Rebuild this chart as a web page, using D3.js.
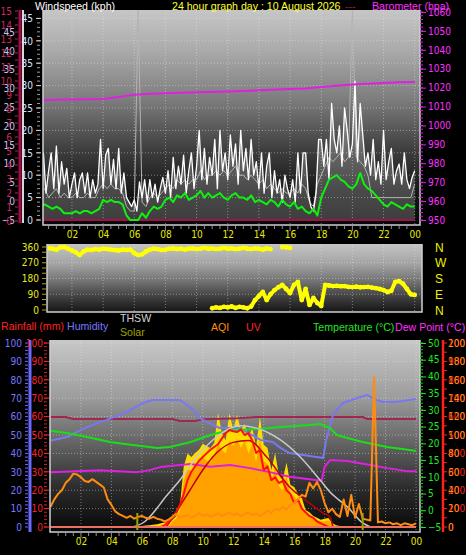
<!DOCTYPE html>
<html><head><meta charset="utf-8">
<script src="https://cdn.jsdelivr.net/npm/d3@7"></script>
<style>
html,body{margin:0;padding:0;background:#000;overflow:hidden}
svg{display:block}
text{font-family:"Liberation Sans",Arial,sans-serif}
.ax text{font-family:"Liberation Sans Narrow","DejaVu Sans Condensed","Liberation Sans",sans-serif;font-size:10px}
</style>
</head><body>
<svg id="c" width="466" height="555"></svg>
<script>
// ---------------- DATA ----------------
const xTickHours  = [2,4,6,8,10,12,14,16,18,20,22,24];
const xTickLabels = ["02","04","06","08","10","12","14","16","18","20","22","00"];

// wind gust (kph), every 10 minutes from 00:00 to 24:00
const windGust = [
  8,15,6,11,15,7,   16.5,6,13,8,11.5,5,  8,10.5,5,9,10.5,6,  10.5,5,9,6,8,18,
  7,14.5,16,8,13.5,7, 16,6,10.5,5,4,3,   4.5,2,8.5,5,9,4,     9,5,8,4,7,9.5,
  6,11,5,14,7,12,   8,14.5,6,11,15,7,    12,20,9,16,8,14,     10,18,7,20,11,15,
  9,19,12,17,8,20,  11,16,9,18,10,13,    7,15,6,12,15,5,      11,6,9,4,10,7,
  5,9,4,15,6,15,    15,6,3,2,6,18,       18,12,18,9,26,18,    15,21,12,25,20,14,
  17,31,13,26,19,12, 15,10,18,9,13,8,    20,9,13,16,8,11,     12.5,8,15,9,7,9.5,
  11];
// wind average (kph), every 15 minutes
const windAvg = [
  6,7,5,6, 7,5,6,5, 5,6,5,5, 6,5,5,7, 8,7,8,7, 7,6,3,2,
  2,47,4,3, 5,6,5,6, 7,8,7,9, 8,9,8,9, 9,11,9,10, 10,11,10,11,
  10,11,12,10, 10,9,10,9, 8,9,7,8, 7,6,7,6, 6,7,6,8, 7,4,3,8,
  10,12,14,13, 14,15,13,14, 47,14,13,12, 10,5,5,5, 5,5,5,5, 5,5,5,5, 8];
// wind speed (kph), every 15 minutes (green)
const windSpeed = [
  3,3.5,3,2.5, 3,2.5,1.5,1.5, 1.5,2,1.5,2, 2,1.5,2,2.5, 4.5,4,4.5,4, 4,3.5,1,0,
  0,0,1.5,0.5, 2,3,2.5,3, 4.5,5,4,5.5, 5,6,4.5,5, 5.5,6.5,5,6, 5,5.5,6,5,
  4.5,5.5,6,5, 5,4.5,5.5,4, 4.5,4,3.5,4.5, 4,3,4.5,3.5, 3,4,2.5,3, 2,1.5,2.5,1,
  5,7,9,9.5, 10,9,8.5,7.5, 7,8,10.5,8, 7,6.5,5.5,4.5, 3.5,3,4,3.5, 3,2.5,3.5,3, 3];
// crimson base series (value per hour)
const crimsonSeries = [0,0,0,0,0,0,0,0,0,0,0,0,0,0,0,0,0,0,0,0,0,0,0,0,0];
// barometer (hPa)
const baroTimes = [0,2,4,5,6,7,8,10,12,14,16,17,18,19,20,21,22,23,24];
const baroVals  = [1013.5,1013.7,1014,1015,1016.3,1016.8,1017,1017.6,1018,1018.6,1019.3,1019.6,1020.3,1021,1021.6,1022,1022.5,1022.8,1023];

// wind direction (deg), every 15 minutes
const windDir = [
  350,352,354,350, 345,358,360,350, 340,330,314,335, 345,343,348,345,
  350,348,345,343, 340,345,343,345, 325,314,318,335, 345,350,348,343,
  345,350,352,348, 350,345,350,352, 348,350,355,350, 352,348,350,355,
  350,352,348,350, 355,350,348,352, 350,345,352,348, null,null,360,358,
  355,null,null,null, null,null,null,null, null,null,null,null, null,null,null,null,
  null,null,null,null, null,null,null,null, null,null,null,null, null];
const windDirLow = [
  null,null,null,null, null,null,null,null, null,null,null,null, null,null,null,null,
  null,null,null,null, null,null,null,null, null,null,null,null, null,null,null,null,
  null,null,null,null, null,null,null,null, null,null,null,null, 10,15,12,18,
  15,20,12,18, 15,10,20,57, 80,103,57,90, 114,130,143,120,
  97,143,160,57, 120,29,69,40, 23,143,140,137, 138,136,137,132,
  131,133,130,131, 132,128,125,120, 114,103,110,160, 165,150,120,90, 86];
const dirLabels = ["N","W","S","E","N"];
const dirLabelVals = [360,270,180,90,0];

// bottom panel
const humTimes = [0,0.2,1.1,1.7,2.4,3.25,3.7,5,6.1,6.7,8.5,9.4,9.8,10.3,11.1,12.4,13.8,14.6,15.1,15.7,17.9,18.1,18.55,19.2,20.1,20.8,21.4,21.8,22.75,24];
const humVals  = [47,47.3,48.9,51.6,54.3,57,58.2,62.5,67.4,69,69,63.6,59.2,57,53.8,53.8,47.3,46.2,43,40.2,37.5,47,61,67.4,70,71.7,69,68,68,69.6];
const maroonTimes = [0,1,1.5,8,8.5,9.5,10,12,13.5,20.5,20.8,24];
const maroonVals  = [59.8,59.8,58.7,58.7,57.6,57.6,58.5,58.9,59.8,59.8,58.7,58.7];
const tempTimes = [0,1.08,2.4,3.9,5.4,6.5,7.0,7.85,9.2,10.5,11.8,13.8,15.1,17.0,17.7,18.35,18.8,19.5,20.5,22.1,23.1,24];
const tempVals  = [23.8,23.1,21.9,20.4,19.5,18.9,18.6,18.9,20.4,22.5,24,24.3,24.9,25.5,25.8,24.6,22.5,21.6,20.4,18.9,18.3,17.7];
const dewTimes = [0,3.25,5.7,6.5,7.2,9.2,10.5,11.8,13.1,14.4,15.7,17.0,17.8,18.0,18.35,19.5,21.0,22.1,23.4,24];
const dewVals  = [11.4,12,11.4,12,12.9,13.8,13,13.5,12.6,11.4,10,9.3,8.8,13,15,14.7,13.5,12.6,11.7,11.7];
const solarMaxTimes = [5.4,6.2,7.0,7.4,8.5,9.6,10.9,12.4,13.8,15.1,16.4,17.7,18.35,19.5,20.5,21];
const solarMaxVals  = [0,30,103,147,255,380,489,550,530,473,380,255,190,109,22,0];
const uvArcTimes = [7.6,8.05,9.16,10,10.9,12,13,14.2,15.7,17,17.9,18.35,18.55];
const uvArcVals  = [0,54,201,310,402,460,470,380,217,130,76,54,0];
// solar radiation (W/m2), every 15 minutes
const solar = [
  0,0,0,0, 0,0,0,0, 0,0,0,0, 0,0,0,0, 0,0,0,0, 0,0,0,0,
  5,8,10,12, 15,20,25,30, 40,60,120,330, 400,380,402,420,
  453,440,430,456, 620,511,470,620, 527,610,527,560, 489,540,435,600,
  447,430,310,402, 280,255,350,230, 217,180,160,92, 80,60,50,40,
  45,49,22,10, 5,0,0,0, 0,0,0,0, 0,0,0,0, 0,0,0,0, 0,0,0,0, 0];
const solarAvg = [
  0,0,0,0, 0,0,0,0, 0,0,0,0, 0,0,0,0, 0,0,0,0, 0,0,0,0,
  0,0,0,0, 0,0,0,0, 30,45,90,250, 320,300,330,350,
  380,360,350,390, 450,420,400,470, 440,480,430,470, 400,450,350,480,
  360,340,250,320, 220,200,280,180, 170,140,120,70, 60,45,40,30,
  30,35,15,5, 0,0,0,0, 0,0,0,0, 0,0,0,0, 0,0,0,0, 0,0,0,0, 0];
const uv = [
  null,null,null,null, null,null,null,null, null,null,null,null, null,null,null,null,
  null,null,null,null, null,null,null,null, 0,0,0,0, 0,0,10,30,
  50,80,120,180, 255,300,330,360, 380,400,420,435, 450,480,510,527,
  520,516,530,500, 510,470,402,420, 310,330,255,270, 239,250,200,180,
  130,150,100,80, 60,50,30,20, 10,0,0,null, null,null,null,null,
  null,null,null,null, null,null,null,null, null,null,null,null, null];
const aqi = [
  22,30,36,40, 48,52,58,57, 54,50,49,52, 49,46,43,30, 24,17,14,12, 10,12,9,11,
  12,10,9,11, 9,8,6,8, 11,14,10,12, 13,10,12,15, 12,14,11,13, 15,12,14,16,
  13,15,12,14, 16,13,15,12, 14,18,15,20, 18,22,19,24, 26,30,35,33, 48,42,49,40,
  26,16,20,14, 11,30,12,35, 10,25,9,8, 7,163,5,6, 4,5,3,4, 2,4,3,2, 4];
const rainfall = [0,0,0,0,0,0,0,0,0,0,0,0,0,0,0,0,0,0,0,0,0,0,0,0,0];
const sunTimes = [5.7, 20.5];

// axis tick label lists
const windTicks = [0,5,10,15,20,25,30,35,40,45];
const paleTicks = [-5,0,5,10,15,20,25,30,35,40,45];
const bftTicks  = [0,1,2,3,4,5,6,7,8,9,10,11,12,13,14,15];
const baroTicks = [950,960,970,980,990,1000,1010,1020,1030,1040,1050,1060];
const dirTicks  = [0,90,180,270,360];
const humTicks  = [0,10,20,30,40,50,60,70,80,90,100];
const tempTicks = [-5,0,5,10,15,20,25,30,35,40,45,50];
const solarTicks= [0,100,200,300,400,500,600,700,800,900,1000];
const aqiTicks  = [0,20,40,60,80,100,120,140,160,180,200];

// ---------------- CHART ----------------
const fmt = d3.format("d");
const svg = d3.select("#c");
const defs = svg.append("defs");
function grad(id, y1, y2, stops){
  const g = defs.append("linearGradient").attr("id",id).attr("gradientUnits","userSpaceOnUse")
    .attr("x1",0).attr("x2",0).attr("y1",y1).attr("y2",y2);
  stops.forEach(([o,c])=>g.append("stop").attr("offset",o).attr("stop-color",c));
}
const P = {
  top:{x:43,y:10,w:377,h:215},
  mid:{x:47,y:244,w:375,h:68},
  bot:{x:50,y:340,w:370,h:192}
};
grad("gTop",P.top.y,P.top.y+P.top.h,[[0,"#c6c6c6"],[0.19,"#aaaaaa"],[0.42,"#7c7c7c"],[0.65,"#3e3e3e"],[0.85,"#161616"],[1,"#060606"]]);
grad("gMid",P.mid.y,P.mid.y+P.mid.h,[[0,"#c4c4c4"],[0.3,"#a2a2a2"],[0.55,"#727272"],[0.78,"#404040"],[1,"#151515"]]);
grad("gBot",P.bot.y,P.bot.y+P.bot.h,[[0,"#c8c8c8"],[0.3,"#9c9c9c"],[0.57,"#5c5c5c"],[0.78,"#2a2a2a"],[1,"#070707"]]);
Object.entries(P).forEach(([k,r])=>{
  defs.append("clipPath").attr("id","clip_"+k).append("rect")
    .attr("x",r.x).attr("y",r.y).attr("width",r.w).attr("height",r.h);
});

const xTop = d3.scaleLinear([0,24],[40.8,414.7]);
const xBot = d3.scaleLinear([0,24],[50.5,416]);
const yWind = d3.scaleLinear([0,45],[220,18.4]);
const yPale = d3.scaleLinear([-5,45],[220,32]);
const yBft  = d3.scaleLinear([0,15],[221,11]);
const yBaro = d3.scaleLinear([950,1060],[220,12]);
const yDir  = d3.scaleLinear([0,360],[310,247]);
const yHum  = d3.scaleLinear([0,100],[527,343]);
const yTemp = d3.scaleLinear([-5,50],[527,343]);
const ySol  = d3.scaleLinear([0,1000],[527,343]);
const yAqi  = d3.scaleLinear([0,200],[527,343]);

function panelBg(r, g){
  svg.append("rect").attr("x",r.x).attr("y",r.y).attr("width",r.w).attr("height",r.h).attr("fill",`url(#${g})`);
}
panelBg(P.top,"gTop"); panelBg(P.mid,"gMid"); panelBg(P.bot,"gBot");

function grid(r, xs, xVals, ys, yVals, key){
  const g = svg.append("g").attr("clip-path",`url(#clip_${key})`)
    .attr("stroke","#e6e6e6").attr("stroke-opacity",0.45).attr("stroke-dasharray","1,2");
  xVals.forEach(v=>g.append("line").attr("x1",xs(v)).attr("x2",xs(v)).attr("y1",r.y).attr("y2",r.y+r.h));
  yVals.forEach(v=>g.append("line").attr("y1",ys(v)).attr("y2",ys(v)).attr("x1",r.x).attr("x2",r.x+r.w));
}
grid(P.top,xTop,xTickHours,yWind,windTicks.slice(1),"top");
grid(P.mid,xTop,xTickHours,yDir,[90,180,270],"mid");
grid(P.bot,xBot,xTickHours,yHum,humTicks.slice(1),"bot");

function seriesLine(key, xs, ys, times, vals, color, width, curve){
  const data = vals.map((v,i)=>({t:times[i],v}));
  const line = d3.line().defined(d=>d.v!=null).x(d=>xs(d.t)).y(d=>ys(d.v)).curve(curve||d3.curveLinear);
  return svg.append("path").attr("clip-path",`url(#clip_${key})`).datum(data)
    .attr("d",line).attr("fill","none").attr("stroke",color).attr("stroke-width",width)
    .attr("stroke-linejoin","round");
}
function seriesArea(key, xs, ys, times, vals, color){
  const data = vals.map((v,i)=>({t:times[i],v}));
  const area = d3.area().x(d=>xs(d.t)).y0(ys(0)).y1(d=>ys(d.v));
  return svg.append("path").attr("clip-path",`url(#clip_${key})`).datum(data)
    .attr("d",area).attr("fill",color);
}
const t10 = windGust.map((_,i)=>i/6);
const t15 = windSpeed.map((_,i)=>i/4);
const tH  = crimsonSeries.map((_,i)=>i);

// ---- top panel series ----
seriesArea("top",xTop,yWind,t10,windGust,"rgba(255,255,255,0.22)");
seriesLine("top",xTop,yWind,t15,windAvg,"#b4b4b4",1);
seriesLine("top",xTop,yWind,t10,windGust,"#ffffff",1.3);
seriesLine("top",xTop,yWind,tH,crimsonSeries,"#a0104a",2);
seriesLine("top",xTop,yWind,t15,windSpeed,"#10f010",2);
seriesLine("top",xTop,yBaro,baroTimes,baroVals,"#e020e0",2);

// ---- middle panel ----
function dots(key, xs, ys, times, vals, color, r){
  svg.append("g").attr("clip-path",`url(#clip_${key})`).selectAll("circle")
    .data(vals.map((v,i)=>({t:times[i],v})).filter(d=>d.v!=null))
    .join("circle").attr("cx",d=>xs(d.t)).attr("cy",d=>ys(d.v)).attr("r",r).attr("fill",color);
}
seriesLine("mid",xTop,yDir,t15,windDir,"#ffff00",4);
seriesLine("mid",xTop,yDir,t15,windDirLow,"#ffff00",4);
dots("mid",xTop,yDir,t15,windDir,"#ffff00",2.4);
dots("mid",xTop,yDir,t15,windDirLow,"#ffff00",2.4);

// ---- bottom panel ----
seriesArea("bot",xBot,ySol,t15,solar,"#ffdc00");
seriesArea("bot",xBot,ySol,t15,solarAvg,"#ffa200");
seriesLine("bot",xBot,yHum,maroonTimes,maroonVals,"#a02850",2);
seriesLine("bot",xBot,yHum,humTimes,humVals,"#7878f0",2);
seriesLine("bot",xBot,yTemp,tempTimes,tempVals,"#18e018",2);
seriesLine("bot",xBot,yTemp,dewTimes,dewVals,"#e020e0",2);
seriesLine("bot",xBot,ySol,solarMaxTimes,solarMaxVals,"#c8c8c8",1.5,d3.curveMonotoneX);
seriesLine("bot",xBot,ySol,uvArcTimes,uvArcVals,"#c00000",1.5,d3.curveMonotoneX);
seriesLine("bot",xBot,ySol,t15,uv,"#ff1010",2);
seriesLine("bot",xBot,yAqi,t15,aqi,"#ff8c10",2);
seriesLine("bot",xBot,yHum,tH,rainfall,"#f07060",2);
svg.append("g").attr("clip-path","url(#clip_bot)").selectAll("line").data(sunTimes).join("line")
  .attr("x1",d=>xBot(d)).attr("x2",d=>xBot(d)).attr("y1",530).attr("y2",513)
  .attr("stroke","#a0a000").attr("stroke-width",2);

// ---- plot borders ----
function border(r){
  svg.append("path").attr("d",`M${r.x},${r.y}V${r.y+r.h}H${r.x+r.w}V${r.y}`)
    .attr("fill","none").attr("stroke","#cfcfcf").attr("stroke-width",1.5);
}
border(P.top); border(P.mid); border(P.bot);

// ---- axes ----
function styleAxis(g, color, tickColor){
  g.attr("class","ax");
  g.select("path.domain").remove();
  g.selectAll("line").attr("stroke",tickColor||color);
  g.selectAll("text").attr("fill",color);
  return g;
}
function minorTicks(x, scale, vals, len, color, dir){
  const g = svg.append("g");
  vals.forEach(v=>g.append("line").attr("x1",x).attr("x2",x+dir*len)
    .attr("y1",scale(v)).attr("y2",scale(v)).attr("stroke",color).attr("stroke-width",1));
}
// x axes
const xaTop = svg.append("g").attr("transform",`translate(0,${P.top.y+P.top.h})`)
  .call(d3.axisBottom(xTop).tickValues(xTickHours).tickFormat((d,i)=>xTickLabels[i]).tickSize(0).tickPadding(6));
styleAxis(xaTop,"#e8e800");
svg.append("g").selectAll("line").data(d3.range(1,48)).join("line")
  .attr("x1",d=>xTop(d/2)).attr("x2",d=>xTop(d/2)).attr("y1",226).attr("y2",d=>d%4===0?231:229)
  .attr("stroke","#909090");
const xaBot = svg.append("g").attr("transform",`translate(0,${P.bot.y+P.bot.h})`)
  .call(d3.axisBottom(xBot).tickValues(xTickHours).tickFormat((d,i)=>xTickLabels[i]).tickSize(0).tickPadding(6));
styleAxis(xaBot,"#e8e800");
svg.append("g").selectAll("line").data(d3.range(1,48)).join("line")
  .attr("x1",d=>xBot(d/2)).attr("x2",d=>xBot(d/2)).attr("y1",533).attr("y2",d=>d%4===0?538:536)
  .attr("stroke","#909090");

// top-left axes
svg.append("line").attr("x1",20).attr("x2",20).attr("y1",10).attr("y2",223).attr("stroke","#a01048").attr("stroke-width",3);
minorTicks(18, yBft, d3.range(0,15.5,0.5), 3, "#c02058", -1);
svg.append("line").attr("x1",23).attr("x2",23).attr("y1",10).attr("y2",223).attr("stroke","#d8d8d8").attr("stroke-width",2);
styleAxis(svg.append("g").attr("transform","translate(16,0)")
  .call(d3.axisLeft(yPale).tickValues(paleTicks).tickSize(0).tickPadding(1)),"#c4c8f0");
styleAxis(svg.append("g").attr("transform","translate(13,0)")
  .call(d3.axisLeft(yBft).tickValues(bftTicks).tickSize(0).tickPadding(1)),"#d02858");
styleAxis(svg.append("g").attr("transform","translate(34,0)")
  .call(d3.axisLeft(yWind).tickValues(windTicks).tickSize(0).tickPadding(1)),"#dde4ff");
minorTicks(37, yWind, d3.range(0,46,1), 3, "#9a9a9a", 1);
minorTicks(36, yWind, windTicks, 5, "#d0d0d0", 1);

// barometer
minorTicks(420, yBaro, d3.range(950,1061,2), 3, "#d020d0", 1);
styleAxis(svg.append("g").attr("transform","translate(421,0)")
  .call(d3.axisRight(yBaro).tickValues(baroTicks).tickFormat(fmt).tickSize(5).tickPadding(2)),"#ff30ff","#e020e0");

// direction axis
minorTicks(42, yDir, d3.range(0,361,30), 4, "#b0a000", 1);
styleAxis(svg.append("g").attr("transform","translate(40,0)")
  .call(d3.axisLeft(yDir).tickValues(dirTicks).tickSize(0).tickPadding(1)),"#e8e820");
svg.append("g").selectAll("text").data(dirLabels).join("text")
  .attr("x",435).attr("y",(d,i)=>yDir(dirLabelVals[i])+4.5).text(d=>d)
  .attr("fill","#f0f000").style("font-size","12px");

// bottom left
svg.append("line").attr("x1",30).attr("x2",30).attr("y1",340).attr("y2",532).attr("stroke","#6a6aff").attr("stroke-width",3);
minorTicks(28, yHum, d3.range(0,101,2), 3, "#6a6aff", -1);
styleAxis(svg.append("g").attr("transform","translate(23,0)")
  .call(d3.axisLeft(yHum).tickValues(humTicks).tickSize(0).tickPadding(1)),"#7878ff");
styleAxis(svg.append("g").attr("transform","translate(44,0)")
  .call(d3.axisLeft(yHum).tickValues(humTicks).tickSize(0).tickPadding(1)),"#ff2020");
minorTicks(44, yHum, d3.range(0,101,2), 3, "#d02020", 1);
minorTicks(44, yHum, humTicks, 5, "#ff2020", 1);

// bottom right
minorTicks(420, yTemp, d3.range(-5,51,1), 3, "#18c018", 1);
styleAxis(svg.append("g").attr("transform","translate(421,0)")
  .call(d3.axisRight(yTemp).tickValues(tempTicks).tickSize(5).tickPadding(2)),"#20e820");
svg.append("line").attr("x1",443).attr("x2",443).attr("y1",340).attr("y2",532).attr("stroke","#ff2020").attr("stroke-width",2.5);
minorTicks(444, ySol, d3.range(0,1001,50), 3, "#ff2020", 1);
styleAxis(svg.append("g").attr("transform","translate(446,0)")
  .call(d3.axisRight(ySol).tickValues(solarTicks).tickFormat(fmt).tickSize(0).tickPadding(2)),"#ff2020");
styleAxis(svg.append("g").attr("transform","translate(446,0)")
  .call(d3.axisRight(yAqi).tickValues(aqiTicks).tickSize(0).tickPadding(2)),"#ff8c10");

// ---- titles & legend ----
function label(x,y,txt,color,anchor){
  svg.append("text").attr("x",x).attr("y",y).text(txt).attr("fill",color)
    .attr("text-anchor",anchor||"start").style("font-size","10.6px");
}
label(35,10,"Windspeed (kph)","#ffffff");
label(172,10,"24 hour graph day : 10 August 2026","#ffff30");
label(345,10,"---","#b01040");
label(372,10,"Barometer (hpa)","#ff30ff");
label(1,330,"Rainfall (mm)","#ff2020");
label(67,330,"Humidity","#7878ff");
label(120,322,"THSW","#d0d0d0");
label(120,336,"Solar","#a0a000");
label(211,331,"AQI","#ff8c10");
label(246,331,"UV","#ff2020");
label(313,331,"Temperature (°C)","#20e820");
label(395,331,"Dew Point (°C)","#ff30ff");
</script>
</body></html>
